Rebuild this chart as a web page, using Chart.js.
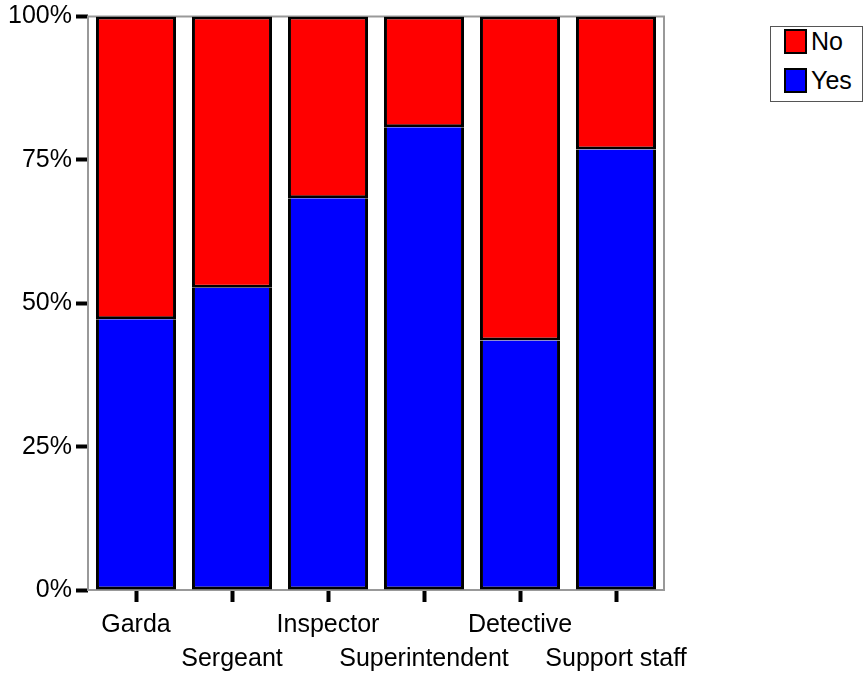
<!DOCTYPE html>
<html>
<head>
<meta charset="utf-8">
<script src="https://cdn.jsdelivr.net/npm/chart.js@4"></script>
<style>
  body { margin: 0; background: #fff; font-family: "Liberation Sans", Arial, sans-serif; }
  #wrap { position: relative; width: 864px; height: 673px; }
  #legend { position: absolute; left: 770px; top: 26px; width: 93px; height: 76px;
            border: 1px solid #555; box-sizing: border-box; background: #fff; }
  .item { position: absolute; left: 13px; font-size: 25px; color: #000; line-height: 26px; white-space: nowrap; }
  .sw { display: inline-block; width: 23px; height: 25px; border: 2px solid #000; box-sizing: border-box;
        vertical-align: top; margin-right: 4px; margin-top: 1px; }
</style>
</head>
<body>
<div id="wrap">
  <canvas id="chart" width="864" height="673"></canvas>
  <div id="legend"></div>
</div>
<script>
const categories = ['Garda', 'Sergeant', 'Inspector', 'Superintendent', 'Detective', 'Support staff'];
const yesValues = [47.2, 52.7, 68.3, 80.7, 43.5, 76.8];
const noValues = [52.8, 47.3, 31.7, 19.3, 56.5, 23.2];
const yTicks = [0, 25, 50, 75, 100];

// gray frame around the plot area
const framePlugin = {
    id: 'frame',
    beforeDatasetsDraw(chart) {
        const a = chart.chartArea;
        const c = chart.ctx;
        c.save();
        c.strokeStyle = '#999';
        c.lineWidth = 2;
        c.strokeRect(a.left, a.top, a.right - a.left, a.bottom - a.top);
        c.restore();
    }
};

const chart = new Chart(document.getElementById('chart'), {
    type: 'bar',
    data: {
        labels: categories,
        datasets: [
            // no top edge, the No bar draws the dividing line
            { label: 'Yes', data: yesValues, backgroundColor: '#0000ff', borderColor: '#000', borderWidth: 3, borderSkipped: 'top' },
            { label: 'No', data: noValues, backgroundColor: '#ff0000', borderColor: '#000', borderWidth: 3, borderSkipped: false }
        ]
    },
    options: {
        responsive: false,
        animation: false,
        layout: { padding: { top: 12, right: 200, left: 0, bottom: 0 } },
        datasets: { bar: { categoryPercentage: 1, barPercentage: 0.834 } },
        plugins: { legend: { display: false }, tooltip: { enabled: false } },
        scales: {
            x: {
                stacked: true,
                border: { display: false },
                grid: { offset: false, drawOnChartArea: false, tickLength: 12, tickWidth: 4, tickColor: '#000' },
                ticks: {
                    color: '#000',
                    padding: 6,
                    maxRotation: 0,
                    autoSkip: false,
                    font: { family: 'Liberation Sans', size: 25, lineHeight: 1.36 },
                    callback: function(v, i) {
                        const l = categories[i];
                        return i % 2 === 0 ? [l, ''] : ['', l];
                    }
                },
                afterFit(scale) { scale.height = 83; }
            },
            y: {
                stacked: true,
                min: 0,
                max: 100,
                border: { display: false },
                afterBuildTicks(scale) { scale.ticks = yTicks.map(v => ({ value: v })); },
                grid: { drawOnChartArea: false, tickLength: 12, tickWidth: 4, tickColor: '#000' },
                ticks: {
                    color: '#000',
                    padding: 4,
                    font: { family: 'Liberation Sans', size: 25, lineHeight: 1 },
                    callback: v => v + '%'
                },
                afterFit(scale) { scale.width = 88; }
            }
        }
    },
    plugins: [framePlugin]
});

// legend box, top item is the top of the stack
const legend = document.getElementById('legend');
chart.data.datasets.slice().reverse().forEach((ds, i) => {
    const d = document.createElement('div');
    d.className = 'item';
    d.style.top = (1 + i * 39) + 'px';
    d.innerHTML = '<span class="sw" style="background:' + ds.backgroundColor + '"></span>' + ds.label;
    legend.appendChild(d);
});
</script>
</body>
</html>
